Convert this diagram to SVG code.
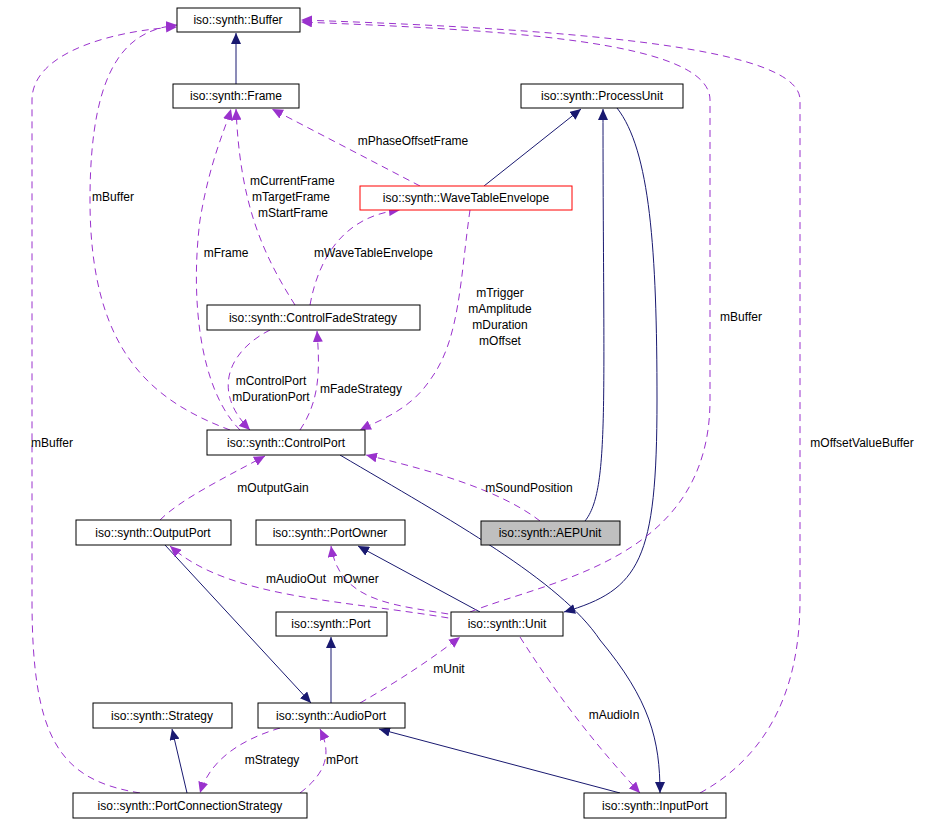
<svg xmlns="http://www.w3.org/2000/svg" width="929" height="824" viewBox="0 0 929 824">
<style>
.n rect{fill:#fff;stroke:#000;stroke-width:1}
text{font-family:"Liberation Sans",Arial,sans-serif;font-size:12px;fill:#000}
.n text{text-anchor:middle}
.i{fill:none;stroke:#191970;stroke-width:1}
.u{fill:none;stroke:#9a32cd;stroke-width:1;stroke-dasharray:7,5}
.l{text-anchor:middle}
</style>
<defs>
<marker id="ai" markerWidth="12" markerHeight="10" refX="11" refY="5" orient="auto" markerUnits="userSpaceOnUse"><path d="M0,0 L11,5 L0,10 z" fill="#191970"/></marker>
<marker id="au" markerWidth="12" markerHeight="10" refX="11" refY="5" orient="auto" markerUnits="userSpaceOnUse"><path d="M0,0 L11,5 L0,10 z" fill="#9a32cd"/></marker>
</defs>
<rect width="929" height="824" fill="#fff"/>
<g id="connectors">
<path class="i" marker-end="url(#ai)" d="M236,84 L236,33"/>
<path class="i" marker-end="url(#ai)" d="M484,186 L581,109"/>
<path class="i" marker-end="url(#ai)" d="M585,521 C610,490 603,400 603,109"/>
<path class="i" marker-end="url(#ai)" d="M617,108 C650,150 657,250 657,400 C657,560 640,590 564,612"/>
<path class="i" marker-end="url(#ai)" d="M340,455 C450,520 560,580 600,640 C650,700 660,740 660,793"/>
<path class="i" marker-end="url(#ai)" d="M480,612 L358,546"/>
<path class="i" marker-end="url(#ai)" d="M165,545 L311,703"/>
<path class="i" marker-end="url(#ai)" d="M331,703 L331,637"/>
<path class="i" marker-end="url(#ai)" d="M187,793 L172,729"/>
<path class="i" marker-end="url(#ai)" d="M620,793 L379,729"/>

<path class="u" marker-end="url(#au)" d="M230,430 C150,400 90,350 90,200 C90,60 130,30 177,25"/>
<path class="u" marker-end="url(#au)" d="M140,793 C60,780 32,740 32,600 L32,100 C32,50 120,30 177,27"/>
<path class="u" marker-end="url(#au)" d="M470,612 C550,580 710,560 710,400 L710,100 C710,40 500,30 301,22"/>
<path class="u" marker-end="url(#au)" d="M700,793 C760,760 800,700 800,600 L800,100 C800,50 600,30 301,20"/>
<path class="u" marker-end="url(#au)" d="M420,186 L272,109"/>
<path class="u" marker-end="url(#au)" d="M295,305 C260,250 240,200 236,109"/>
<path class="u" marker-end="url(#au)" d="M240,430 C200,390 190,300 200,220 C210,160 225,130 231,109"/>
<path class="u" marker-end="url(#au)" d="M310,305 C320,250 350,215 400,210"/>
<path class="u" marker-end="url(#au)" d="M470,210 C460,280 460,340 430,380 C410,410 380,420 360,430"/>
<path class="u" marker-end="url(#au)" d="M270,330 C230,350 210,390 250,430"/>
<path class="u" marker-end="url(#au)" d="M300,430 C320,400 320,370 317,331"/>
<path class="u" marker-end="url(#au)" d="M540,521 C500,490 430,470 366,455"/>
<path class="u" marker-end="url(#au)" d="M160,520 C180,500 220,480 265,456"/>
<path class="u" marker-end="url(#au)" d="M460,620 C350,600 230,600 170,546"/>
<path class="u" marker-end="url(#au)" d="M460,616 C400,605 340,605 331,546"/>
<path class="u" marker-end="url(#au)" d="M360,703 C400,680 430,660 460,637"/>
<path class="u" marker-end="url(#au)" d="M520,637 C560,700 600,750 640,793"/>
<path class="u" marker-end="url(#au)" d="M280,728 C240,740 210,760 200,793"/>
<path class="u" marker-end="url(#au)" d="M300,793 C330,770 330,750 320,729"/>
</g>
<g id="labels">
<text class="l" x="113" y="201">mBuffer</text>
<text class="l" x="52" y="447">mBuffer</text>
<text class="l" x="741" y="321">mBuffer</text>
<text class="l" x="862" y="447">mOffsetValueBuffer</text>
<text class="l" x="413" y="145">mPhaseOffsetFrame</text>
<text x="250" y="185">mCurrentFrame</text>
<text x="252" y="201">mTargetFrame</text>
<text x="258" y="217">mStartFrame</text>
<text class="l" x="226" y="257">mFrame</text>
<text x="314" y="257">mWaveTableEnvelope</text>
<text class="l" x="500" y="297">mTrigger</text>
<text class="l" x="500" y="313">mAmplitude</text>
<text class="l" x="500" y="329">mDuration</text>
<text class="l" x="500" y="345">mOffset</text>
<text class="l" x="271" y="385">mControlPort</text>
<text class="l" x="271" y="401">mDurationPort</text>
<text x="320" y="393">mFadeStrategy</text>
<text class="l" x="529" y="492">mSoundPosition</text>
<text class="l" x="273" y="492">mOutputGain</text>
<text class="l" x="296" y="583">mAudioOut</text>
<text class="l" x="356" y="583">mOwner</text>
<text class="l" x="449" y="673">mUnit</text>
<text class="l" x="614" y="719">mAudioIn</text>
<text class="l" x="272" y="764">mStrategy</text>
<text class="l" x="342" y="764">mPort</text>
</g>
<g id="Buffer" class="n"><rect x="177" y="8" width="123" height="24"/><text x="238" y="24">iso::synth::Buffer</text></g>
<g id="Frame" class="n"><rect x="173" y="84" width="126" height="24"/><text x="236" y="100">iso::synth::Frame</text></g>
<g id="ProcessUnit" class="n"><rect x="521" y="84" width="162" height="24"/><text x="602" y="100">iso::synth::ProcessUnit</text></g>
<g id="WaveTableEnvelope" class="n"><rect x="360" y="186" width="212" height="24" style="stroke:#f00"/><text x="466" y="202">iso::synth::WaveTableEnvelope</text></g>
<g id="ControlFadeStrategy" class="n"><rect x="207" y="305" width="213" height="25"/><text x="313" y="322">iso::synth::ControlFadeStrategy</text></g>
<g id="ControlPort" class="n"><rect x="207" y="430" width="158" height="25"/><text x="286" y="447">iso::synth::ControlPort</text></g>
<g id="AEPUnit" class="n"><rect x="481" y="521" width="139" height="24" style="fill:#bfbfbf"/><text x="550" y="537">iso::synth::AEPUnit</text></g>
<g id="OutputPort" class="n"><rect x="76" y="520" width="155" height="25"/><text x="153" y="537">iso::synth::OutputPort</text></g>
<g id="PortOwner" class="n"><rect x="256" y="520" width="149" height="25"/><text x="330" y="537">iso::synth::PortOwner</text></g>
<g id="Port" class="n"><rect x="276" y="612" width="111" height="24"/><text x="331" y="628">iso::synth::Port</text></g>
<g id="Unit" class="n"><rect x="451" y="612" width="112" height="24"/><text x="507" y="628">iso::synth::Unit</text></g>
<g id="Strategy" class="n"><rect x="93" y="703" width="139" height="25"/><text x="162" y="720">iso::synth::Strategy</text></g>
<g id="AudioPort" class="n"><rect x="258" y="703" width="147" height="25"/><text x="331" y="720">iso::synth::AudioPort</text></g>
<g id="PortConnectionStrategy" class="n"><rect x="73" y="793" width="234" height="25"/><text x="190" y="810">iso::synth::PortConnectionStrategy</text></g>
<g id="InputPort" class="n"><rect x="584" y="793" width="142" height="25"/><text x="655" y="810">iso::synth::InputPort</text></g>
</svg>
